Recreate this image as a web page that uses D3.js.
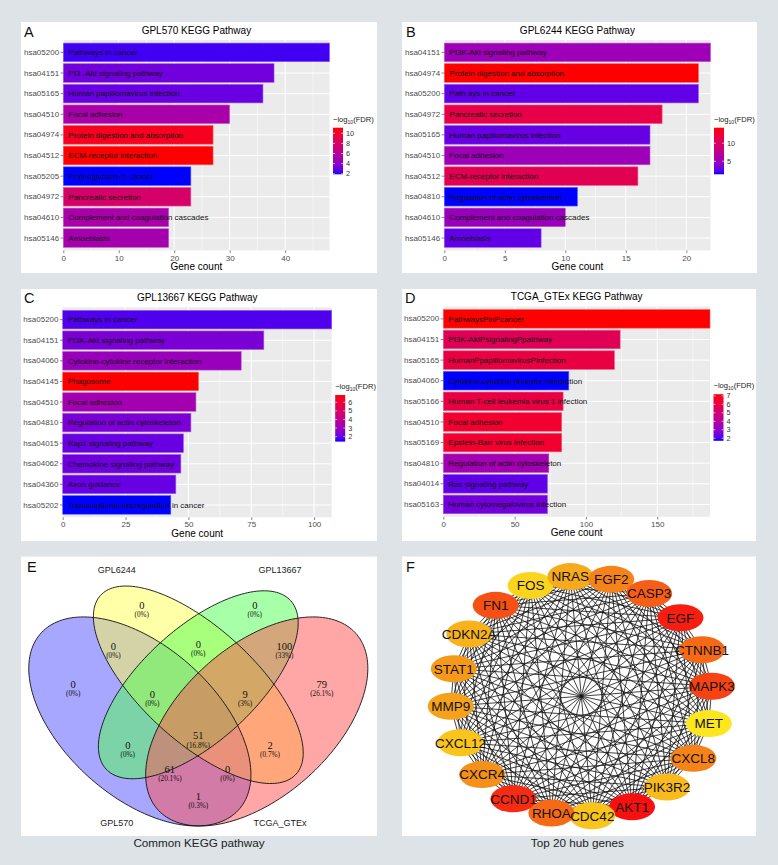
<!DOCTYPE html>
<html><head><meta charset="utf-8">
<script src="https://cdn.jsdelivr.net/npm/d3@7"></script>
<style>
body{margin:0;background:#dde3e6;}
svg{display:block;font-family:"Liberation Sans",Arial,Helvetica,sans-serif;}
</style>
</head><body>
<svg id="c" width="778" height="865"></svg>
<script>
// ---------------- DATA ----------------
const aIds = ["hsa05200","hsa04151","hsa05165","hsa04510","hsa04974","hsa04512","hsa05205","hsa04972","hsa04610","hsa05146"];
const aTerms = ["Pathways in cancer","PI3 -Akt signaling pathway","Human papillomavirus infection","Focal adhesion","Protein digestion and absorption","ECM-receptor interaction","Proteoglycans in cancer","Pancreatic secretion","Complement and coagulation cascades","Amoebiasis"];
const aCounts = [48,38,36,30,27,27,23,23,19,19];
const aLogFdr = [2.3,3.2,3.0,5.2,10.5,11.1,1.9,7.8,5.2,5.0];
const aXTicks = [0,10,20,30,40];
const aLegendTicks = [2,4,6,8,10];

const bIds = ["hsa04151","hsa04974","hsa05200","hsa04972","hsa05165","hsa04510","hsa04512","hsa04810","hsa04610","hsa05146"];
const bTerms = ["PI3K-Akt signaling pathway","Protein digestion and absorption","Path ays in cancer","Pancreatic secretion","Human papillomavirus infection","Focal adhesion","ECM-receptor interaction","Regulation of actin cytoskeleton","Complement and coagulation cascades","Amoebiasis"];
const bCounts = [22,21,21,18,17,17,16,11,10,8];
const bLogFdr = [5.3,14.3,2.7,11.5,2.9,5.3,11.0,1.4,5.0,2.7];
const bXTicks = [0,5,10,15,20];
const bLegendTicks = [5,10];

const cIds = ["hsa05200","hsa04151","hsa04060","hsa04145","hsa04510","hsa04810","hsa04015","hsa04062","hsa04360","hsa05202"];
const cTerms = ["Pathways in cancer","PI3K-Akt signaling pathway","Cytokine-cytokine receptor interaction","Phagosome","Focal adhesion","Regulation of actin cytoskeleton","Rap1 signaling pathway","Chemokine signaling pathway","Axon guidance","Transcriptional misregulation in cancer"];
const cCounts = [107,80,71,54,53,51,48,47,45,43];
const cLogFdr = [1.8,2.35,2.95,6.85,3.2,2.35,2.07,2.15,2.05,1.42];
const cXTicks = [0,25,50,75,100];
const cLegendTicks = [2,3,4,5,6];

const dIds = ["hsa05200","hsa04151","hsa05165","hsa04060","hsa05166","hsa04510","hsa05169","hsa04810","hsa04014","hsa05163"];
const dTerms = ["PathwaysPinPcancer","PI3K-AktPsignalingPpathway","HumanPpapillomavirusPinfection","Cytokine-cytokine receptor interaction","Human T-cell leukemia virus 1 infection","Focal adhesion","Epstein-Barr virus infection","Regulation of actin cytoskeleton","Ras signaling pathway","Human cytomegalovirus infection"];
const dCounts = [187,124,120,88,84,83,83,74,73,73];
const dLogFdr = [7.2,5.66,6.1,1.7,6.1,6.55,6.55,3.5,2.25,2.5];
const dXTicks = [0,50,100,150];
const dLegendTicks = [2,3,4,5,6,7];

const vennSets = ["GPL570","GPL6244","GPL13667","TCGA_GTEx"];
const vennRegions = ["A","B","C","D","AB","BC","CD","ABC","BCD","ABCD","AC","BD","ACD","ABD","AD"];
const vennCounts = [0,0,0,79,0,0,100,0,9,51,0,2,61,0,1];

const hubGenes = ["MAPK3","MET","CXCL8","PIK3R2","AKT1","CDC42","RHOA","CCND1","CXCR4","CXCL12","MMP9","STAT1","CDKN2A","FN1","FOS","NRAS","FGF2","CASP3","EGF","CTNNB1"];
const hubScores = [17,9,14.5,11.5,19,11,15.5,18,14,11,13,13.5,12,16.5,10,12.5,14.5,16,18.5,15.5];

// ---------------- DRAW ----------------
const svg = d3.select("#c");
svg.append("rect").attr("width",778).attr("height",865).attr("fill","#dde3e6");
const defs = svg.append("defs");

function box(x,y,w,h){ svg.append("rect").attr("x",x).attr("y",y).attr("width",w).attr("height",h).attr("fill","#fff"); }
function letter(t,x,y){ svg.append("text").attr("x",x).attr("y",y).attr("font-size",14.5).attr("fill","#111").text(t); }

function barPanel(cfg, key){
  const {bx, p, title, ids, terms, counts, fdr, xTicks, legTicks, L} = cfg;
  box(...bx);
  letter(L.t, L.x, L.y);
  const g = svg.append("g");
  const x = d3.scaleLinear().domain([0, d3.max(counts)]).range([p.x0, p.x1]);
  const y = d3.scaleBand().domain(ids).range([p.y0, p.y1]).paddingInner(0.1).paddingOuter(0.15);
  const ext = d3.extent(fdr);
  const col = d3.scaleLinear().domain(ext).range(["blue","red"]).interpolate(d3.interpolateLab);

  g.append("rect").attr("x",p.x0).attr("y",p.y0).attr("width",p.x1-p.x0).attr("height",p.y1-p.y0).attr("fill","#ebebeb");
  const step = xTicks[1]-xTicks[0];
  const minor = d3.range(step/2, d3.max(counts), step);
  g.selectAll(".mn").data(minor).join("line").attr("x1",d=>x(d)).attr("x2",d=>x(d))
    .attr("y1",p.y0).attr("y2",p.y1).attr("stroke","#fff").attr("stroke-width",0.5);
  g.selectAll(".mj").data(xTicks).join("line").attr("x1",d=>x(d)).attr("x2",d=>x(d))
    .attr("y1",p.y0).attr("y2",p.y1).attr("stroke","#fff").attr("stroke-width",1);
  g.selectAll(".hj").data(ids).join("line").attr("x1",p.x0).attr("x2",p.x1)
    .attr("y1",d=>y(d)+y.bandwidth()/2).attr("y2",d=>y(d)+y.bandwidth()/2).attr("stroke","#fff").attr("stroke-width",1);

  g.selectAll(".bar").data(ids).join("rect")
    .attr("x",x(0)).attr("y",d=>y(d)).attr("width",(d,i)=>x(counts[i])-x(0)).attr("height",y.bandwidth())
    .attr("fill",(d,i)=>col(fdr[i]))
    .attr("stroke",(d,i)=>d3.interpolateRgb(col(fdr[i]),"#fff")(0.35)).attr("stroke-width",0.6);
  g.selectAll(".lbl").data(ids).join("text")
    .attr("x",x(0)+5).attr("y",d=>y(d)+y.bandwidth()/2).attr("dy","0.35em")
    .attr("font-size",8).attr("fill","#111").text((d,i)=>terms[i]);

  // axes
  const ya = g.append("g").attr("transform",`translate(${p.x0},0)`)
    .call(d3.axisLeft(y).tickSize(2.7).tickPadding(1.5));
  const xa = g.append("g").attr("transform",`translate(0,${p.y1})`)
    .call(d3.axisBottom(x).tickValues(xTicks).tickSize(2.7).tickPadding(1.8));
  [ya,xa].forEach(a=>{
    a.select(".domain").remove();
    a.attr("font-size",null).attr("font-family",null);
    a.selectAll("text").attr("font-size",8).attr("fill","#4d4d4d");
    a.selectAll("line").attr("stroke","#333").attr("stroke-width",0.6);
  });
  const cx = (p.x0+p.x1)/2;
  g.append("text").attr("x",cx).attr("y",p.y0-6.5).attr("text-anchor","middle").attr("font-size",10).attr("fill","#000").text(title);
  g.append("text").attr("x",cx).attr("y",p.y1+19.5).attr("text-anchor","middle").attr("font-size",10).attr("fill","#000").text("Gene count");

  // legend
  const lx = p.x1+3.5, ltop = p.y0+87.7, lh = 46.6, lw = 10;
  const gid = "grad"+key;
  const gr = defs.append("linearGradient").attr("id",gid).attr("x1",0).attr("y1",1).attr("x2",0).attr("y2",0);
  d3.range(0,1.0001,0.05).forEach(t=>{
    gr.append("stop").attr("offset",t).attr("stop-color",col(ext[0]+t*(ext[1]-ext[0])));
  });
  g.append("rect").attr("x",lx).attr("y",ltop).attr("width",lw).attr("height",lh).attr("fill",`url(#${gid})`);
  const ly = d3.scaleLinear().domain(ext).range([ltop+lh, ltop]);
  legTicks.forEach(t=>{
    g.append("line").attr("x1",lx).attr("x2",lx+2).attr("y1",ly(t)).attr("y2",ly(t)).attr("stroke","#fff").attr("stroke-width",0.6);
    g.append("line").attr("x1",lx+lw-2).attr("x2",lx+lw).attr("y1",ly(t)).attr("y2",ly(t)).attr("stroke","#fff").attr("stroke-width",0.6);
    g.append("text").attr("x",lx+lw+3).attr("y",ly(t)).attr("dy","0.35em").attr("font-size",7.3).attr("fill","#333").text(t);
  });
  const lt = g.append("text").attr("x",lx).attr("y",ltop-6).attr("font-size",7.6).attr("fill","#222");
  lt.append("tspan").text("\u2212log");
  lt.append("tspan").attr("font-size",5).attr("dy",1.8).text("10");
  lt.append("tspan").attr("dy",-1.8).text("(FDR)");
}

barPanel({bx:[21,22,356,251], p:{x0:63.3,x1:329.5,y0:40,y1:250.4}, title:"GPL570 KEGG Pathway",
  ids:aIds, terms:aTerms, counts:aCounts, fdr:aLogFdr, xTicks:aXTicks, legTicks:aLegendTicks, L:{t:"A",x:24,y:36.7}}, "A");
barPanel({bx:[402,22,355,251], p:{x0:444.3,x1:710.5,y0:40,y1:250.4}, title:"GPL6244 KEGG Pathway",
  ids:bIds, terms:bTerms, counts:bCounts, fdr:bLogFdr, xTicks:bXTicks, legTicks:bLegendTicks, L:{t:"B",x:406,y:36.7}}, "B");
barPanel({bx:[21,289,356,252], p:{x0:62.7,x1:331.7,y0:307.3,y1:517.3}, title:"GPL13667 KEGG Pathway",
  ids:cIds, terms:cTerms, counts:cCounts, fdr:cLogFdr, xTicks:cXTicks, legTicks:cLegendTicks, L:{t:"C",x:24,y:303.3}}, "C");
barPanel({bx:[402,289,354,252], p:{x0:443.3,x1:710,y0:306.5,y1:516.8}, title:"TCGA_GTEx KEGG Pathway",
  ids:dIds, terms:dTerms, counts:dCounts, fdr:dLogFdr, xTicks:dXTicks, legTicks:dLegendTicks, L:{t:"D",x:405,y:303.3}}, "D");

// ---------------- VENN ----------------
box(21,556.5,356,279.5);
letter("E",27,571.7);
const vx = d3.scaleLinear().domain([0,1]).range([3.45,393.15]);
const vy = d3.scaleLinear().domain([0,1]).range([893.8,527.1]);
const ell = [
  {cx:.35,cy:.47,a:.35,b:.20,rot:135,fill:"#5050ff"},
  {cx:.50,cy:.57,a:.35,b:.15,rot:135,fill:"#ffff50"},
  {cx:.50,cy:.57,a:.33,b:.15,rot:45, fill:"#50ff50"},
  {cx:.65,cy:.47,a:.35,b:.20,rot:45, fill:"#ff5050"}
];
const ts = d3.range(0, 2*Math.PI, Math.PI/90);
const eline = d3.line().curve(d3.curveLinearClosed);
function ellPts(e){
  const r = e.rot*Math.PI/180;
  return ts.map(t=>{
    const u = e.cx + e.a*Math.cos(t)*Math.cos(r) - e.b*Math.sin(t)*Math.sin(r);
    const v = e.cy + e.a*Math.cos(t)*Math.sin(r) + e.b*Math.sin(t)*Math.cos(r);
    return [vx(u), vy(v)];
  });
}
const vg = svg.append("g");
vg.selectAll(".ef").data(ell).join("path").attr("d",d=>eline(ellPts(d))).attr("fill",d=>d.fill).attr("fill-opacity",0.5);
vg.selectAll(".eo").data(ell).join("path").attr("d",d=>eline(ellPts(d))).attr("fill","none").attr("stroke","#111").attr("stroke-width",0.9);

const regionPos = {A:[0.179,0.571],B:[0.355,0.788],C:[0.645,0.788],D:[0.817,0.571],AB:[0.282,0.674],BC:[0.5,0.681],
  CD:[0.721,0.674],ABC:[0.382,0.545],BCD:[0.62,0.545],ABCD:[0.5,0.431],AC:[0.319,0.404],BD:[0.684,0.404],
  ACD:[0.427,0.34],ABD:[0.575,0.34],AD:[0.5,0.265]};
const vTotal = d3.sum(vennCounts);
const pct = c => { const v = Math.round(c/vTotal*1000)/10; return "(" + (v%1===0 ? v.toFixed(0) : v.toFixed(1)) + "%)"; };
vennRegions.forEach((r,i)=>{
  const [u,v] = regionPos[r];
  vg.append("text").attr("x",vx(u)).attr("y",vy(v)).attr("dy","0.35em").attr("text-anchor","middle")
    .attr("font-family","'Liberation Serif','DejaVu Serif',serif").attr("font-size",10.5).attr("fill","#111").text(vennCounts[i]);
  vg.append("text").attr("x",vx(u)).attr("y",vy(v)+9.3).attr("dy","0.35em").attr("text-anchor","middle")
    .attr("font-family","'Liberation Serif','DejaVu Serif',serif").attr("font-size",7.2).attr("fill","#111").text(pct(vennCounts[i]));
});
const catPos = [[0.2906,0.1925],[0.2906,0.8829],[0.7094,0.8829],[0.7094,0.1925]];
vennSets.forEach((s,i)=>{
  vg.append("text").attr("x",vx(catPos[i][0])).attr("y",vy(catPos[i][1])).attr("dy","0.35em").attr("text-anchor","middle")
    .attr("font-size",9).attr("fill","#222").text(s);
});
svg.append("text").attr("x",199).attr("y",847).attr("text-anchor","middle").attr("font-size",11.7).attr("fill","#222").text("Common KEGG pathway");

// ---------------- NETWORK ----------------
box(402,556.5,354,279.5);
letter("F",406,571.7);
const fg = svg.append("g");
const ang = d3.scaleLinear().domain([0,hubGenes.length]).range([-4.8,355.2]);
const nx = d3.scaleLinear().domain([-1,1]).range([581.3-131,581.3+131]);
const ny = d3.scaleLinear().domain([-1,1]).range([696.2-120,696.2+120]);
const nodes = hubGenes.map((g,i)=>{
  const a = ang(i)*Math.PI/180;
  return {name:g, score:hubScores[i], x:nx(Math.cos(a)), y:ny(Math.sin(a))};
});
const edges = [];
nodes.forEach((s,i)=>nodes.forEach((t,j)=>{ if(j>i) edges.push([s,t]); }));
fg.selectAll(".ed").data(edges).join("line")
  .attr("x1",d=>d[0].x).attr("y1",d=>d[0].y).attr("x2",d=>d[1].x).attr("y2",d=>d[1].y)
  .attr("stroke","#111").attr("stroke-width",0.8);
const ncol = d3.scaleLinear().domain([9,14,19]).range(["#fce61e","#f5901a","#f81010"]);
fg.selectAll(".nd").data(nodes).join("ellipse").attr("cx",d=>d.x).attr("cy",d=>d.y).attr("rx",23).attr("ry",13.5)
  .attr("fill",d=>ncol(d.score));
fg.selectAll(".nt").data(nodes).join("text").attr("x",d=>d.x).attr("y",d=>d.y).attr("dy","0.36em")
  .attr("text-anchor","middle").attr("font-size",13.5).attr("fill","#111").text(d=>d.name);
svg.append("text").attr("x",577.3).attr("y",847).attr("text-anchor","middle").attr("font-size",11.7).attr("fill","#222").text("Top 20 hub genes");
</script>
</body></html>
